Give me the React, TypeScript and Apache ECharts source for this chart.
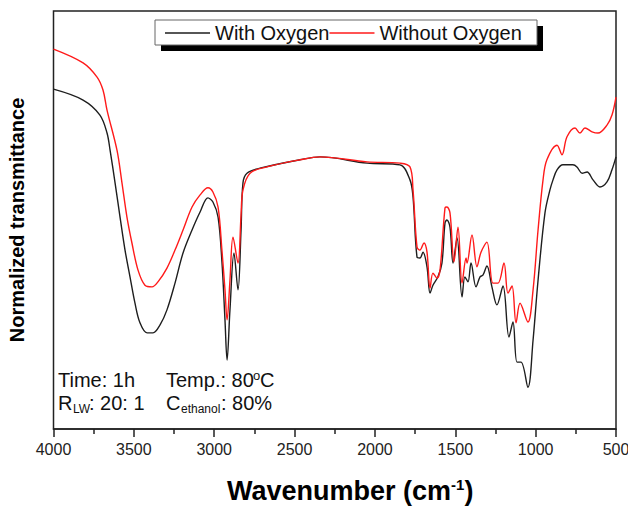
import React, { useEffect, useRef } from "react";
import * as echarts from "echarts";

// Wavenumber (cm-1) and normalized transmittance (arbitrary units, 0-100)
const withOxygen: [number, number][] = [
  [4000, 81.3], [3816, 78.7], [3711, 75.1], [3667, 70.8], [3648, 66.7], [3617, 58.9],
  [3586, 50.7], [3555, 42.8], [3524, 36.4], [3493, 30.1], [3462, 25.4], [3418, 23.0],
  [3381, 23.0], [3337, 24.9], [3294, 28.5], [3244, 34.9], [3194, 42.1], [3138, 47.6],
  [3088, 51.9], [3039, 55.3], [3008, 54.3], [2976, 50.7], [2952, 40.0], [2933, 26.1],
  [2920, 16.5], [2902, 28.5], [2877, 42.1], [2852, 33.3], [2833, 47.6], [2821, 58.9],
  [2796, 61.2], [2715, 62.4], [2466, 64.4], [2342, 65.1], [2049, 63.6], [1844, 63.2],
  [1782, 59.6], [1763, 55.5], [1738, 41.1], [1720, 40.9], [1701, 42.3], [1676, 38.8],
  [1657, 32.5], [1639, 34.4], [1608, 36.4], [1583, 39.7], [1564, 49.3], [1552, 50.0],
  [1533, 48.3], [1514, 39.7], [1489, 45.7], [1458, 31.6], [1440, 36.4], [1421, 35.2],
  [1402, 39.7], [1371, 34.0], [1346, 36.4], [1328, 36.8], [1303, 39.0], [1272, 34.0],
  [1241, 29.7], [1203, 34.2], [1166, 22.0], [1141, 25.6], [1116, 16.0], [1091, 16.0],
  [1048, 10.0], [1016, 21.3], [985, 35.6], [942, 51.7], [911, 57.2], [892, 59.6],
  [867, 62.0], [830, 63.2], [768, 63.2], [743, 62.7], [711, 61.2], [680, 61.5],
  [643, 59.6], [600, 57.9], [556, 59.1], [525, 62.0], [500, 65.1],
];

const withoutOxygen: [number, number][] = [
  [4000, 90.9], [3816, 87.6], [3729, 84.2], [3692, 81.1], [3667, 76.3], [3605, 66.7],
  [3574, 58.9], [3543, 50.7], [3512, 44.5], [3474, 38.0], [3431, 34.4], [3387, 34.0],
  [3350, 35.2], [3294, 38.5], [3244, 42.8], [3194, 47.6], [3138, 53.1], [3088, 56.0],
  [3039, 57.7], [3008, 56.7], [2976, 53.1], [2952, 42.8], [2933, 33.3], [2920, 26.1],
  [2902, 35.6], [2883, 45.9], [2852, 39.7], [2833, 51.2], [2821, 57.2], [2777, 61.2],
  [2672, 62.7], [2466, 64.4], [2342, 65.1], [2049, 63.9], [1844, 63.6], [1782, 62.7],
  [1763, 57.2], [1738, 43.5], [1720, 42.8], [1695, 44.5], [1676, 42.3], [1657, 33.7],
  [1639, 37.3], [1614, 36.1], [1595, 38.0], [1564, 52.9], [1552, 53.1], [1533, 51.7],
  [1508, 40.0], [1483, 48.3], [1458, 34.9], [1433, 40.9], [1427, 39.7], [1396, 46.4],
  [1365, 38.8], [1340, 42.3], [1303, 44.7], [1266, 34.9], [1234, 34.9], [1197, 39.7],
  [1172, 32.5], [1147, 34.2], [1122, 25.4], [1097, 30.1], [1048, 25.6], [1016, 33.3],
  [985, 47.6], [954, 59.6], [930, 64.4], [867, 67.9], [836, 65.6], [805, 69.9],
  [755, 72.0], [724, 70.8], [693, 72.0], [649, 71.1], [612, 70.8], [556, 72.7],
  [525, 75.1], [500, 79.4],
];

const seriesNames = ["With Oxygen", "Without Oxygen"];
const seriesColors = ["#1e1e1e", "#ff1a1a"];
const xTicks = { min: 500, max: 4000, interval: 500 };

const FONT = "'Liberation Sans', Arial, Helvetica, sans-serif";

export default function App() {
  const ref = useRef<HTMLDivElement>(null);
  useEffect(() => {
    if (!ref.current) return;
    const chart = echarts.init(ref.current, undefined, { renderer: "svg" });
    const txt = (text: string, x: number, y: number, size: number) => ({
      type: "text",
      x,
      y,
      z: 5,
      style: {
        text,
        fontFamily: FONT,
        fontSize: size,
        fill: "#111",
        verticalAlign: "middle",
        align: "left",
      },
    });
    chart.setOption({
      animation: false,
      backgroundColor: "#fff",
      grid: {
        left: 53.5,
        right: 12,
        top: 11,
        bottom: 78,
        show: true,
        borderColor: "#222",
        borderWidth: 1.5,
        backgroundColor: "transparent",
        outerBoundsMode: "none",
        containLabel: false,
      },
      legend: {
        left: 165,
        top: 23,
        padding: 0,
        icon: "rect",
        itemWidth: 45,
        itemHeight: 1.5,
        itemGap: 0,
        z: 10,
        textStyle: { fontFamily: FONT, fontSize: 20, color: "#111" },
        data: seriesNames,
      },
      xAxis: {
        type: "value",
        inverse: true,
        min: xTicks.min,
        max: xTicks.max,
        interval: xTicks.interval,
        axisLine: { show: true, onZero: false, lineStyle: { color: "#222", width: 1.5 } },
        axisTick: { show: true, length: 8, lineStyle: { color: "#222", width: 1.5 } },
        minorTick: { show: true, splitNumber: 2, length: 5, lineStyle: { color: "#222", width: 1.5 } },
        splitLine: { show: false },
        axisLabel: {
          fontFamily: FONT,
          fontSize: 16,
          color: "#222",
          margin: 12,
          hideOverlap: false,
          formatter: (v: number) => String(v),
        },
        name: "{a|Wavenumber (cm}{b|-1}{a|)}",
        nameLocation: "middle",
        nameGap: 48,
        nameTextStyle: {
          padding: [0, 0, 0, 31],
          rich: {
            a: { fontFamily: FONT, fontSize: 27, fontWeight: "bold", color: "#000", lineHeight: 28 },
            b: { fontFamily: FONT, fontSize: 15, fontWeight: "bold", color: "#000", verticalAlign: "top", lineHeight: 15 },
          },
        },
      },
      yAxis: {
        type: "value",
        min: 0,
        max: 100,
        axisLine: { show: false },
        axisTick: { show: false },
        axisLabel: { show: false },
        splitLine: { show: false },
        name: "Normalized transmittance",
        nameLocation: "middle",
        nameGap: 27,
        nameTextStyle: { fontFamily: FONT, fontSize: 20, fontWeight: "bold", color: "#000" },
      },
      graphic: [
        { type: "rect", z: 1, shape: { x: 161, y: 26, width: 382, height: 25 }, style: { fill: "#000" } },
        { type: "rect", z: 2, shape: { x: 155, y: 20, width: 382, height: 25 }, style: { fill: "#fff", stroke: "#666", lineWidth: 1 } },
        txt("Time: 1h", 58, 380, 20),
        txt("Temp.: 80", 166, 380, 20),
        txt("o", 253, 375, 13),
        txt("C", 260, 380, 20),
        txt("R", 58, 403, 20),
        txt("LW", 73, 409, 12),
        txt(": 20: 1", 89, 403, 20),
        txt("C", 166, 403, 20),
        txt("ethanol", 181, 409, 12),
        txt(": 80%", 221, 403, 20),
      ],
      series: [
        {
          name: seriesNames[0],
          type: "line",
          data: withOxygen,
          symbol: "none",
          smooth: 0.35,
          lineStyle: { color: seriesColors[0], width: 1.4 },
          itemStyle: { color: seriesColors[0] },
        },
        {
          name: seriesNames[1],
          type: "line",
          data: withoutOxygen,
          symbol: "none",
          smooth: 0.35,
          lineStyle: { color: seriesColors[1], width: 1.4 },
          itemStyle: { color: seriesColors[1] },
        },
      ],
    });
    return () => chart.dispose();
  }, []);
  return (
    <div
      ref={ref}
      style={{ position: "fixed", left: 0, top: 0, width: 628, height: 507, background: "#fff" }}
    />
  );
}
